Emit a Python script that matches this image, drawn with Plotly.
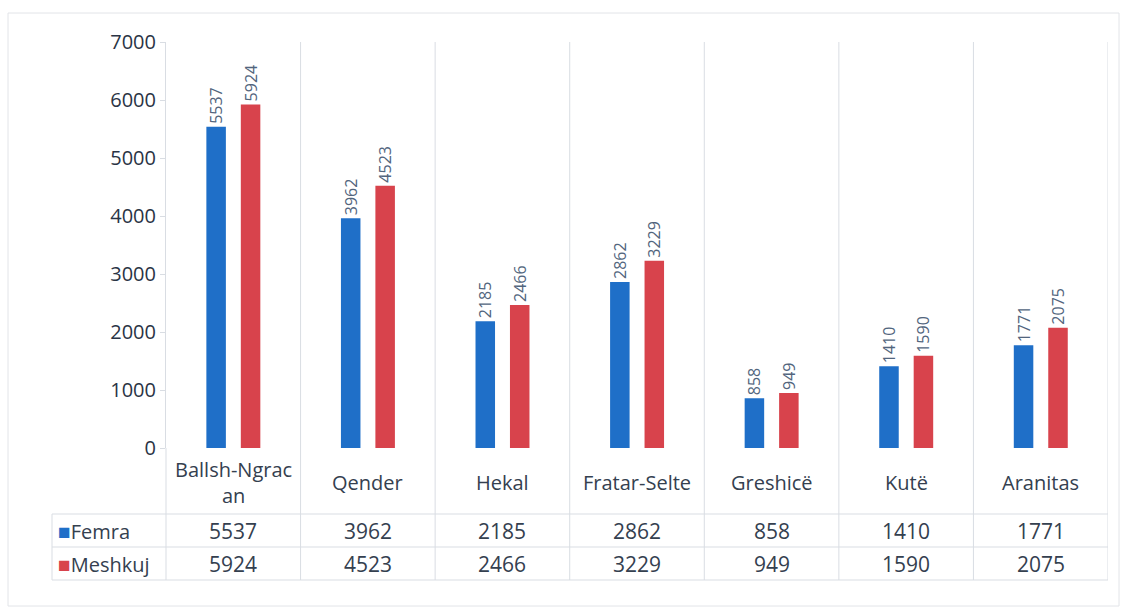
import plotly.graph_objects as go

# ── data ─────────────────────────────────────────────
categories = ["Ballsh-Ngracan", "Qender", "Hekal", "Fratar-Selte", "Greshicë", "Kutë", "Aranitas"]
cat_labels = ["Ballsh-Ngrac<br>an", "Qender", "Hekal", "Fratar-Selte", "Greshicë", "Kutë", "Aranitas"]
femra = [5537, 3962, 2185, 2862, 858, 1410, 1771]
meshkuj = [5924, 4523, 2466, 3229, 949, 1590, 2075]
y_ticks = [0, 1000, 2000, 3000, 4000, 5000, 6000, 7000]

# ── style ────────────────────────────────────────────
BLUE = "#1f6fc8"
RED = "#d8434c"
TEXT = "#34404f"
LABEL = "#52657d"
GRID = "#d9dde3"
FONT = "Open Sans, sans-serif"

W, H = 1126, 612
L, R, T, B = 166, 1108, 42, 448   # plot area in pixels


def py(y):   # pixel y -> paper y
    return (B - y) / (B - T)


def pxx(x):  # pixel x -> paper x
    return (x - L) / (R - L)


fig = go.Figure()
fig.add_trace(go.Bar(
    x=categories, y=femra, name="Femra",
    marker=dict(color=BLUE, line=dict(width=0)),
    width=0.145, offset=-0.2,
    text=femra, textposition="outside", textangle=-90, constraintext="none",
    textfont=dict(color=LABEL, size=16, family=FONT),
    cliponaxis=False,
))
fig.add_trace(go.Bar(
    x=categories, y=meshkuj, name="Meshkuj",
    marker=dict(color=RED, line=dict(width=0)),
    width=0.145, offset=0.056,
    text=meshkuj, textposition="outside", textangle=-90, constraintext="none",
    textfont=dict(color=LABEL, size=16, family=FONT),
    cliponaxis=False,
))

shapes = []
# vertical category separators through plot and table
for i in range(len(categories)):
    shapes.append(dict(type="line", xref="x", yref="paper",
                       x0=i + 0.5, x1=i + 0.5, y0=py(580), y1=1,
                       line=dict(color=GRID, width=1)))
# table horizontal lines
for yy in (514, 547, 580):
    shapes.append(dict(type="line", xref="paper", yref="paper",
                       x0=pxx(52), x1=1, y0=py(yy), y1=py(yy),
                       line=dict(color=GRID, width=1)))
# table left borders
shapes.append(dict(type="line", xref="paper", yref="paper",
                   x0=pxx(52), x1=pxx(52), y0=py(580), y1=py(514),
                   line=dict(color=GRID, width=1)))
shapes.append(dict(type="line", xref="paper", yref="paper",
                   x0=0, x1=0, y0=py(580), y1=py(448),
                   line=dict(color=GRID, width=1)))
# outer frame
shapes.append(dict(type="rect", xref="paper", yref="paper",
                   x0=pxx(8), x1=pxx(1119), y0=py(606), y1=py(13),
                   line=dict(color="#e2e4e8", width=1)))

annotations = []
for i, lab in enumerate(cat_labels):
    annotations.append(dict(x=i, y=py(482), xref="x", yref="paper", text=lab,
                            yanchor="middle", showarrow=False,
                            font=dict(size=20, color=TEXT, family=FONT)))
    annotations.append(dict(x=i, y=py(531), xref="x", yref="paper", text=str(femra[i]),
                            yanchor="middle", showarrow=False,
                            font=dict(size=21, color=TEXT, family=FONT)))
    annotations.append(dict(x=i, y=py(564), xref="x", yref="paper", text=str(meshkuj[i]),
                            yanchor="middle", showarrow=False,
                            font=dict(size=21, color=TEXT, family=FONT)))

for name, color, yy in (("Femra", BLUE, 531), ("Meshkuj", RED, 564)):
    annotations.append(dict(x=pxx(56), y=py(yy), xref="paper", yref="paper",
                            xanchor="left", yanchor="middle", showarrow=False,
                            text=f"<span style='color:{color};font-size:21px'>■</span>{name}",
                            font=dict(size=20, color=TEXT, family=FONT)))

fig.update_layout(
    width=W, height=H,
    paper_bgcolor="white", plot_bgcolor="white",
    margin=dict(l=L, r=W - R, t=T, b=H - B),
    showlegend=False,
    barmode="group",
    font=dict(family=FONT, color=TEXT),
    xaxis=dict(showticklabels=False, showgrid=False, zeroline=False,
               showline=False, ticks="", range=[-0.5, 6.5]),
    yaxis=dict(range=[0, 7000], tickvals=y_ticks, showgrid=False, zeroline=False,
               showline=True, linecolor=GRID, ticks="outside", ticklen=5,
               tickcolor=GRID, tickfont=dict(size=20, color="#2a3445", family=FONT)),
    shapes=shapes,
    annotations=annotations,
)

fig.write_html("out.html", config=dict(displayModeBar=False),
               post_script="document.body.style.margin='0';document.body.style.overflow='hidden';")
